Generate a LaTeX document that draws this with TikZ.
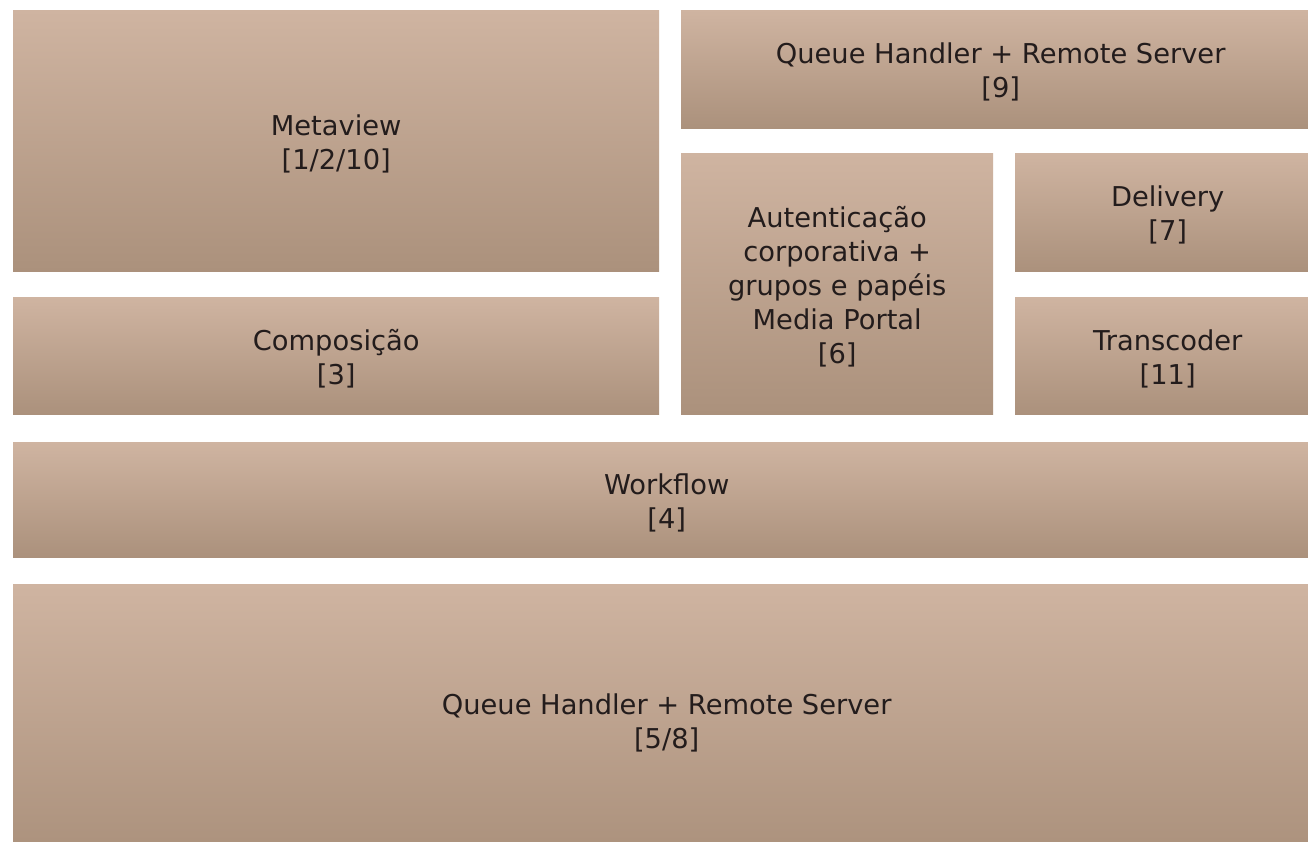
\documentclass[tikz,border=0pt]{standalone}
\usepackage{fontspec}
\setmainfont{DejaVu Sans}
\usepackage{tikz}

\definecolor{boxtop}{HTML}{CFB4A1}
\definecolor{boxbottom}{HTML}{AB917C}
\definecolor{boxtext}{HTML}{231C1C}

\tikzset{
  layer/.style={anchor=north west, top color=boxtop, bottom color=boxbottom,
    inner sep=0pt},
  layertext/.style={text=boxtext, align=center, inner sep=0pt, yshift=-3pt,
    font=\fontsize{27.3}{34}\selectfont},
}

\begin{document}
\begin{tikzpicture}[x=1pt,y=-1pt]
    % Page
    \clip (0,0) rectangle (1308,842);
    \fill[white] (0,0) rectangle (1308,842);

    % Top left
    \node[layer, minimum width=646pt, minimum height=261pt,
      label={[layertext]center:{Metaview\\{[1/2/10]}}}] (metaview) at (13,10) {};
    \node[layer, minimum width=646pt, minimum height=117pt,
      label={[layertext]center:{Composição\\{[3]}}}] (compos) at (13,297) {};

    % Top right
    \node[layer, minimum width=639pt, minimum height=118pt,
      label={[layertext]center:{Queue Handler + Remote Server\\{[9]}}}] (queuetop) at (681,10) {};
    \node[layer, minimum width=312pt, minimum height=261pt,
      label={[layertext]center:{Autenticação\\corporativa +\\grupos e papéis\\Media Portal\\{[6]}}}] (auth) at (681,153) {};
    \node[layer, minimum width=305pt, minimum height=118pt,
      label={[layertext]center:{Delivery\\{[7]}}}] (delivery) at (1015,153) {};
    \node[layer, minimum width=305pt, minimum height=117pt,
      label={[layertext]center:{Transcoder\\{[11]}}}] (transcoder) at (1015,297) {};

    % Bottom layers
    \node[layer, minimum width=1307pt, minimum height=115pt,
      label={[layertext]center:{Workflow\\{[4]}}}] (workflow) at (13,442) {};
    \node[layer, minimum width=1307pt, minimum height=272pt,
      label={[layertext]center:{Queue Handler + Remote Server\\{[5/8]}}}] (queuebottom) at (13,584) {};
\end{tikzpicture}
\end{document}
